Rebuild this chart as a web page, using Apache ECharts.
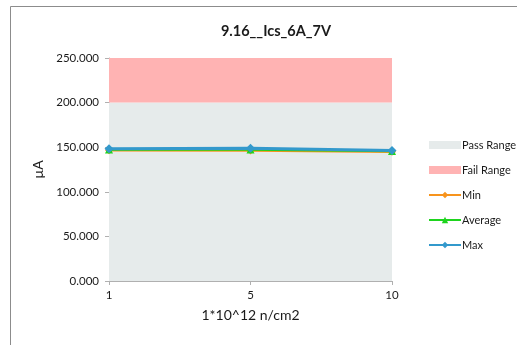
<!DOCTYPE html>
<html><head><meta charset="utf-8">
<script src="https://cdn.jsdelivr.net/npm/echarts@6/dist/echarts.min.js"></script>
<style>html,body{margin:0;padding:0;background:#fff}#c{width:517px;height:345px}</style>
</head><body><div id="c"></div>
<script>
const categories = ['1', '5', '10'];
const passRange = [200, 200, 200];
const failRange = [50, 50, 50];
const minVals = [146.5, 146.4, 144.9];
const avgVals = [147.3, 147.5, 145.6];
const maxVals = [148.3, 148.9, 146.3];
const yTicks = [0, 50, 100, 150, 200, 250];

const font = 'Lato, "Liberation Sans", sans-serif';
const chart = echarts.init(document.getElementById('c'), null, {renderer: 'canvas'});
chart.setOption({
  animation: false,
  backgroundColor: '#fff',
  graphic: [{type: 'rect', shape: {x: 10.5, y: 6.5, width: 520, height: 350}, style: {fill: 'none', stroke: '#8c8c8c', lineWidth: 1}, silent: true}],
  title: {text: '9.16__Ics_6A_7V', left: 271, top: 19, textAlign: 'center',
    textStyle: {fontFamily: font, fontWeight: 'bold', fontSize: 14.5, color: '#1a1a1a'}},
  grid: {left: 109, right: 125, top: 58, bottom: 64},
  legend: {
    orient: 'vertical', left: 423, top: 133, itemGap: 11, itemWidth: 32, itemHeight: 8,
    textStyle: {fontFamily: font, fontSize: 11, color: '#1a1a1a', lineHeight: 14, padding: [0, 0, 0, -4]},
    data: [
      {name: 'Pass Range', icon: 'rect'},
      {name: 'Fail Range', icon: 'rect'},
      {name: 'Min'}, {name: 'Average'}, {name: 'Max'}
    ]
  },
  xAxis: {
    type: 'category', data: categories, boundaryGap: false,
    name: '1*10^12 n/cm2', nameLocation: 'middle', nameGap: 27,
    nameTextStyle: {fontFamily: font, fontSize: 14, color: '#1a1a1a'},
    axisLine: {lineStyle: {color: '#b0b0b0', width: 1}},
    axisTick: {show: true, alignWithLabel: true, length: 4, lineStyle: {color: '#b0b0b0'}},
    axisLabel: {fontFamily: font, fontSize: 11.5, color: '#1a1a1a', margin: 8},
    splitLine: {show: false}
  },
  yAxis: {
    type: 'value', min: yTicks[0], max: yTicks[yTicks.length - 1], interval: 50,
    name: 'µA', nameLocation: 'middle', nameGap: 58,
    nameTextStyle: {fontFamily: font, fontSize: 14, color: '#1a1a1a'},
    axisLine: {show: true, lineStyle: {color: '#b0b0b0', width: 1}},
    axisTick: {show: true, length: 4, lineStyle: {color: '#b0b0b0'}},
    axisLabel: {fontFamily: font, fontSize: 11.5, color: '#1a1a1a', margin: 10,
      formatter: v => v.toFixed(3)},
    splitLine: {show: false}
  },
  series: [
    {name: 'Pass Range', type: 'line', stack: 'range', data: passRange, symbol: 'none',
      lineStyle: {width: 0, opacity: 0}, areaStyle: {color: '#e6ebeb', opacity: 1}, itemStyle: {color: '#e6ebeb'}, z: 1},
    {name: 'Fail Range', type: 'line', stack: 'range', data: failRange, symbol: 'none',
      lineStyle: {width: 0, opacity: 0}, areaStyle: {color: '#ffb3b3', opacity: 1}, itemStyle: {color: '#ffb3b3'}, z: 1},
    {name: 'Min', type: 'line', data: minVals, symbol: 'diamond', symbolSize: 8,
      lineStyle: {color: '#f7941d', width: 2.5}, itemStyle: {color: '#f7941d'}, z: 3},
    {name: 'Average', type: 'line', data: avgVals, symbol: 'triangle', symbolSize: 8,
      lineStyle: {color: '#1ed41e', width: 2.5}, itemStyle: {color: '#1ed41e'}, z: 4},
    {name: 'Max', type: 'line', data: maxVals, symbol: 'diamond', symbolSize: 9,
      lineStyle: {color: '#3399cc', width: 3}, itemStyle: {color: '#3399cc'}, z: 5}
  ]
});
</script></body></html>
